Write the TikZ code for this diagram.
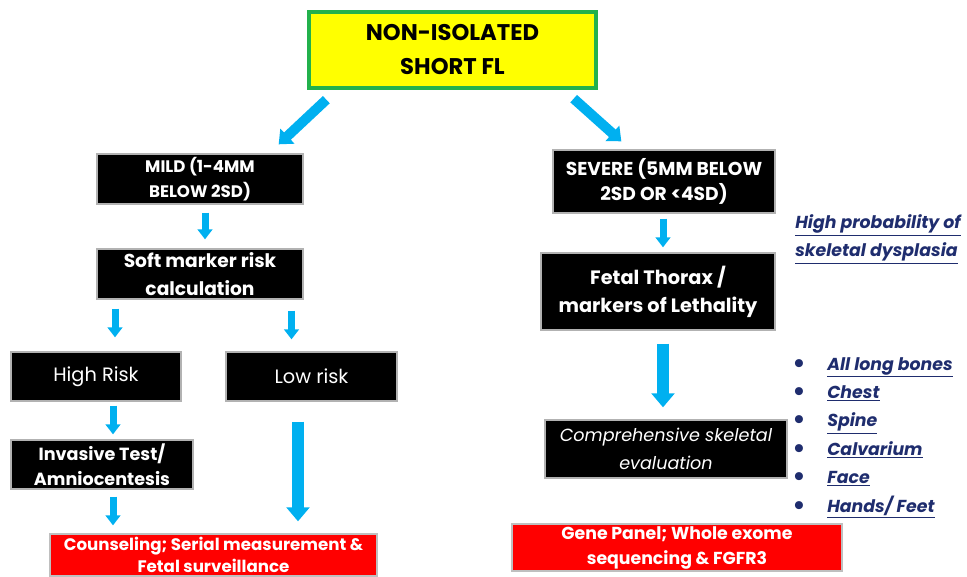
\documentclass[tikz,border=0pt]{standalone}
\usepackage{fontspec}
\setmainfont{Poppins}
\usetikzlibrary{arrows.meta,calc}

\definecolor{arrowblue}{RGB}{0,176,240}
\definecolor{boxgreen}{RGB}{34,177,76}
\definecolor{boxyellow}{RGB}{255,255,0}
\definecolor{boxred}{RGB}{255,0,0}
\definecolor{navytext}{RGB}{31,45,110}

\newdimen\unitpx
\unitpx=0.75pt

\tikzset{
  topbox/.style={draw=boxgreen, line width=2.5pt, fill=boxyellow, align=center, inner sep=0pt,
    font=\bfseries\fontsize{17}{25.5}\selectfont},
  blackbox/.style={draw=gray!60, line width=1pt, fill=black, text=white, align=center, inner sep=0pt,
    font=\bfseries\fontsize{12.5}{18.5}\selectfont},
  bigtext/.style={font=\bfseries\fontsize{14}{20}\selectfont},
  plainbox/.style={blackbox, font=\fontsize{14.5}{20}\selectfont},
  redbox/.style={draw=gray!50, line width=1pt, fill=boxred, text=white, align=center, inner sep=0pt,
    font=\bfseries\fontsize{12.5}{18.5}\selectfont},
  navy/.style={text=navytext, font=\bfseries\itshape\fontsize{13}{21}\selectfont},
  smallarrow/.style={draw=arrowblue, line width=5.25pt, -{Triangle[length=7.5pt,width=11pt]}},
  diagarrow/.style={draw=arrowblue, line width=7.5pt, -{Triangle[length=9pt,width=15pt]}},
  widearrow/.style={draw=arrowblue, line width=9pt, -{Triangle[length=10.5pt,width=17pt]}}
}

\begin{document}
\begin{tikzpicture}[x=0.75pt,y=-0.75pt]
  \useasboundingbox (0,0) rectangle (967,577);
  \clip (0,0) rectangle (967,577);

  % boxes
  \node[topbox, minimum width=287\unitpx, minimum height=76\unitpx] (short) at (452.5,50) {NON-ISOLATED\\SHORT FL};

  \node[blackbox, minimum width=206\unitpx, minimum height=50\unitpx] (mild) at (200,179) {MILD (1-4MM\\BELOW 2SD)};
  \node[blackbox, bigtext, font=\bfseries\fontsize{14}{21}\selectfont, minimum width=206\unitpx, minimum height=50\unitpx] (soft) at (200,274) {Soft marker risk\\calculation};
  \node[plainbox, minimum width=170\unitpx, minimum height=49\unitpx] (high) at (96,376.5) {High Risk};
  \node[plainbox, minimum width=171\unitpx, minimum height=49\unitpx] (low) at (311.5,376.5) {Low risk};
  \node[blackbox, font=\bfseries\fontsize{13.2}{19}\selectfont, minimum width=182\unitpx, minimum height=49\unitpx] (invasive) at (102,464.5) {Invasive Test/\\Amniocentesis};
  \node[redbox, font=\bfseries\fontsize{12.5}{16.5}\selectfont, minimum width=327\unitpx, minimum height=42\unitpx] (counsel) at (213.5,555) {Counseling; Serial measurement \&\\Fetal surveillance};

  \node[blackbox, bigtext, font=\bfseries\fontsize{14}{19}\selectfont, minimum width=222\unitpx, minimum height=63\unitpx] (severe) at (664,181.5) {SEVERE (5MM BELOW\\2SD OR <4SD)};
  \node[blackbox, font=\bfseries\fontsize{14.5}{21}\selectfont, minimum width=234\unitpx, minimum height=77\unitpx] (thorax) at (658,291.5) {Fetal Thorax /\\markers of Lethality};
  \node[plainbox, font=\itshape\fontsize{13.2}{21}\selectfont, minimum width=242\unitpx, minimum height=58\unitpx] (skeletal) at (666,449) {Comprehensive skeletal\\evaluation};
  \node[redbox, font=\bfseries\fontsize{13}{18.75}\selectfont, minimum width=330\unitpx, minimum height=47\unitpx] (gene) at (677,547.5) {Gene Panel; Whole exome\\sequencing \& FGFR3};

  % arrows
  \draw[diagarrow] ($(short.south west)+(19,10)$) -- ($(mild.north east)+(-25,-9)$);
  \draw[diagarrow] ($(short.south east)+(-24,9)$) -- ($(severe.north west)+(69,-8)$);

  \draw[smallarrow] ($(mild.south)+(5,8)$) -- ($(soft.north)+(5,-9)$);
  \draw[smallarrow] ($(soft.south -| high.north)+(19,9)$) -- ($(high.north)+(19,-14)$);
  \draw[smallarrow] ($(soft.south -| low.north)+(-20,11)$) -- ($(low.north)+(-20,-12)$);
  \draw[smallarrow] ($(high.south)+(17,4)$) -- ($(invasive.north -| high.south)+(17,-5)$);
  \draw[smallarrow] ($(invasive.south)+(11,7)$) -- ($(counsel.north -| invasive.south)+(11,-8)$);
  \draw[widearrow] ($(low.south)+(-13.5,20)$) -- ($(counsel.north -| low.south)+(-13.5,-12)$);

  \draw[smallarrow] ($(severe.south)+(-1,5)$) -- ($(thorax.north -| severe.south)+(-1,-5)$);
  \draw[widearrow] ($(thorax.south)+(5,13)$) -- ($(skeletal.north -| thorax.south)+(5,-12)$);

  % notes on the right
  \node[navy, anchor=west, align=left, inner sep=0pt] (dysplasia) at (795,239)
    {\underline{High probability of}\\\underline{skeletal dysplasia}};
  \foreach \bone [count=\i] in {All long bones, Chest, Spine, Calvarium, Face, Hands/ Feet} {
    \node[navy, anchor=base west, inner sep=0pt] (bone\i) at (827,{370+28.4*(\i-1)}) {\underline{\bone}};
    \node[text=navytext, font=\bfseries\fontsize{20}{20}\selectfont, anchor=base, inner sep=0pt] (dot\i) at (799,{372+28.4*(\i-1)}) {\textbullet};
  }
\end{tikzpicture}
\end{document}
